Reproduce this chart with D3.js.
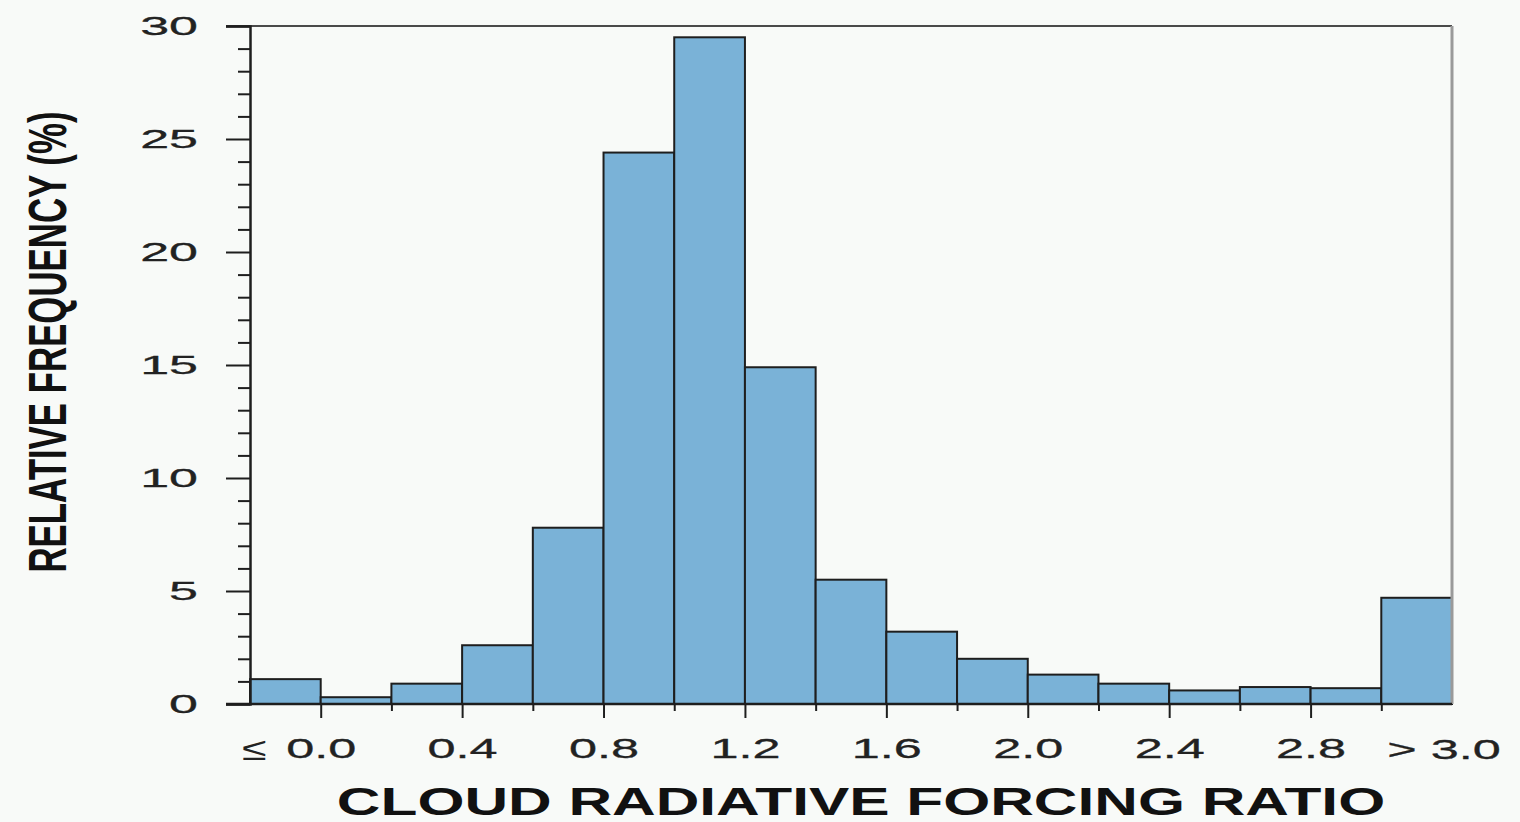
<!DOCTYPE html>
<html>
<head>
<meta charset="utf-8">
<script src="https://cdn.jsdelivr.net/npm/d3@7"></script>
<style>
  html, body { margin: 0; padding: 0; background: #f8faf8; }
  svg { display: block; }
</style>
</head>
<body>
<svg id="chart" width="1520" height="822"></svg>
<script>
// ---- data ----
const binLower = [-0.2, 0.0, 0.2, 0.4, 0.6, 0.8, 1.0, 1.2, 1.4, 1.6, 1.8, 2.0, 2.2, 2.4, 2.6, 2.8, 3.0];
const binUpper = [0.0, 0.2, 0.4, 0.6, 0.8, 1.0, 1.2, 1.4, 1.6, 1.8, 2.0, 2.2, 2.4, 2.6, 2.8, 3.0, 3.2];
const frequency = [1.1, 0.3, 0.9, 2.6, 7.8, 24.4, 29.5, 14.9, 5.5, 3.2, 2.0, 1.3, 0.9, 0.6, 0.75, 0.7, 4.7];
const xMajorTicks = [0.0, 0.4, 0.8, 1.2, 1.6, 2.0, 2.4, 2.8];
const xMinorTicks = [0.2, 0.6, 1.0, 1.4, 1.8, 2.2, 2.6, 3.0];
const xTickLabels = ["0.0", "0.4", "0.8", "1.2", "1.6", "2.0", "2.4", "2.8"];
const yMajorTicks = [0, 5, 10, 15, 20, 25, 30];
const yMinorTicks = [1,2,3,4,6,7,8,9,11,12,13,14,16,17,18,19,21,22,23,24,26,27,28,29];
const xTitle = "CLOUD RADIATIVE FORCING RATIO";
const yTitle = "RELATIVE FREQUENCY (%)";

(function draw() {
  const svg = d3.select("#chart");
  const pLeft = 250, pRight = 1452, pTop = 26, pBottom = 704;
  const x = d3.scaleLinear().domain([-0.2, 3.2]).range([pLeft, pRight]);
  const y = d3.scaleLinear().domain([0, 30]).range([pBottom, pTop]);
  const ink = "#1e1e1e";
  const barFill = "#7ab2d7";
  const labelFont = "'Liberation Sans', Arial, sans-serif";

  // bars
  svg.append("g").selectAll("rect")
    .data(frequency)
    .join("rect")
    .attr("x", (d, i) => x(binLower[i]))
    .attr("y", d => y(d))
    .attr("width", (d, i) => x(binUpper[i]) - x(binLower[i]))
    .attr("height", d => y(0) - y(d))
    .attr("fill", barFill)
    .attr("stroke", ink)
    .attr("stroke-width", 2);

  // frame: top and right
  svg.append("line").attr("x1", pLeft - 24).attr("x2", pRight).attr("y1", y(30)).attr("y2", y(30))
    .attr("stroke", "#4a4a4a").attr("stroke-width", 2);
  svg.append("line").attr("x1", pRight).attr("x2", pRight).attr("y1", y(30)).attr("y2", y(0))
    .attr("stroke", "#9a9a9a").attr("stroke-width", 3);

  // y axis
  const yAxisMajor = d3.axisLeft(y).tickValues(yMajorTicks).tickSize(24).tickPadding(28).tickFormat(d3.format("d"));
  const gy = svg.append("g").attr("transform", `translate(${pLeft},0)`).call(yAxisMajor);
  gy.select(".domain").attr("stroke", ink).attr("stroke-width", 2.5);
  gy.selectAll(".tick line").attr("stroke", ink).attr("stroke-width", 2);
  gy.selectAll(".tick text").each(function() {
    const t = d3.select(this);
    const tx = +t.attr("x");
    t.attr("x", 0).attr("transform", `translate(${tx},0) scale(2.0,1)`);
  }).attr("font-family", labelFont).attr("font-size", 26).attr("fill", "#222")
    .attr("stroke", "#222").attr("stroke-width", 0.3);
  const yAxisMinor = d3.axisLeft(y).tickValues(yMinorTicks).tickSize(12).tickFormat("");
  const gy2 = svg.append("g").attr("transform", `translate(${pLeft},0)`).call(yAxisMinor);
  gy2.select(".domain").remove();
  gy2.selectAll(".tick line").attr("stroke", ink).attr("stroke-width", 2);

  // x axis baseline
  svg.append("line").attr("x1", pLeft - 24).attr("x2", pRight).attr("y1", y(0)).attr("y2", y(0))
    .attr("stroke", ink).attr("stroke-width", 2.5);

  const xAxisMajor = d3.axisBottom(x).tickValues(xMajorTicks).tickSize(14).tickPadding(20)
    .tickFormat((d, i) => xTickLabels[i]);
  const gx = svg.append("g").attr("transform", `translate(0,${pBottom})`).call(xAxisMajor);
  gx.select(".domain").remove();
  gx.selectAll(".tick line").attr("stroke", ink).attr("stroke-width", 2);
  gx.selectAll(".tick text").attr("transform", "scale(1.8,1)")
    .attr("font-family", labelFont).attr("font-size", 28).attr("fill", "#222")
    .attr("stroke", "#222").attr("stroke-width", 0.3);
  const xAxisMinor = d3.axisBottom(x).tickValues(xMinorTicks).tickSize(7).tickFormat("");
  const gx2 = svg.append("g").attr("transform", `translate(0,${pBottom})`).call(xAxisMinor);
  gx2.select(".domain").remove();
  gx2.selectAll(".tick line").attr("stroke", ink).attr("stroke-width", 2);

  // extra labels
  svg.append("text")
    .attr("transform", `translate(${x(0) - 54},${pBottom + 56}) scale(1.6,1.15)`)
    .attr("text-anchor", "end")
    .attr("font-family", labelFont).attr("font-size", 28).attr("fill", "#222")
    .text("≤");
  svg.append("text")
    .attr("transform", `translate(${x(3.0) + 6},${pBottom + 55}) scale(1.8,1)`)
    .attr("text-anchor", "start")
    .attr("font-family", labelFont).attr("font-size", 28).attr("fill", "#222")
    .attr("stroke", "#222").attr("stroke-width", 0.3)
    .text("> 3.0");

  // titles
  svg.append("text")
    .attr("transform", "translate(861,815) scale(1.59,1)")
    .attr("text-anchor", "middle")
    .attr("font-family", labelFont).attr("font-weight", "bold")
    .attr("font-size", 38).attr("fill", "#111")
    .text(xTitle);

  svg.append("text")
    .attr("transform", "translate(66,342) rotate(-90) scale(0.645,1)")
    .attr("text-anchor", "middle")
    .attr("font-family", labelFont).attr("font-weight", "bold")
    .attr("font-size", 54).attr("fill", "#111")
    .text(yTitle);
})();
</script>
</body>
</html>
